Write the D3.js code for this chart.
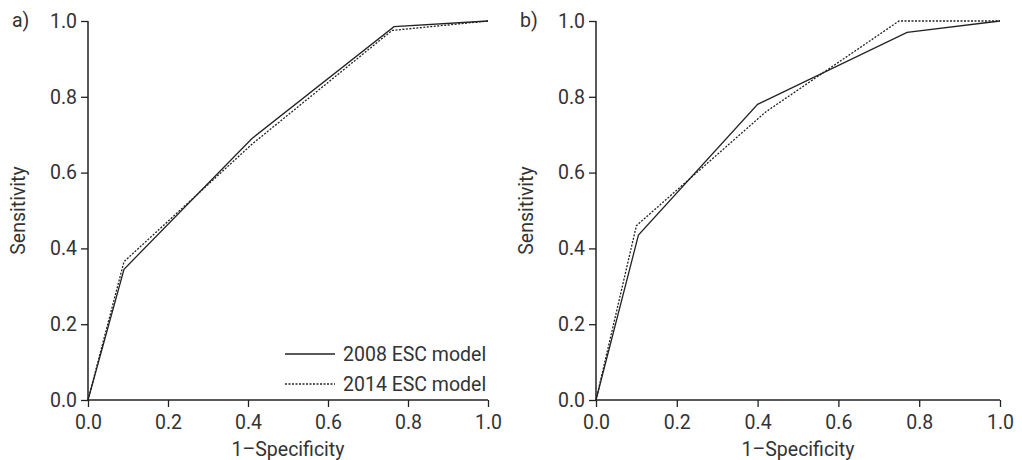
<!DOCTYPE html>
<html>
<head>
<meta charset="utf-8">
<script src="https://cdn.jsdelivr.net/npm/d3@7"></script>
<style>
  body { margin: 0; background: #fff; }
  svg text { font-family: Roboto, "DejaVu Sans", sans-serif; fill: #333; }
</style>
</head>
<body>
<div id="chart"></div>
<script>
// ROC points: [1-specificity, sensitivity]
const rocA2008 = [[0, 0], [0.09, 0.345], [0.41, 0.69], [0.765, 0.985], [1, 1]]
const rocA2014 = [[0, 0], [0.09, 0.365], [0.41, 0.675], [0.76, 0.975], [1, 1]]
const rocB2008 = [[0, 0], [0.105, 0.435], [0.40, 0.78], [0.77, 0.97], [1, 1]]
const rocB2014 = [[0, 0], [0.10, 0.46], [0.42, 0.76], [0.75, 1.0], [1, 1]]
const tickValues = [0, 0.2, 0.4, 0.6, 0.8, 1.0]
const seriesNames = ['2008 ESC model', '2014 ESC model']
const panelLabels = ['a)', 'b)']

const W = 1022, H = 460
const svg = d3.select('#chart').append('svg').attr('width', W).attr('height', H)

const panels = [
  { label: panelLabels[0], left: 88, right: 488, data: [rocA2008, rocA2014], legend: true },
  { label: panelLabels[1], left: 596, right: 1000, data: [rocB2008, rocB2014], legend: false }
]
const plotTop = 21, plotBottom = 400
const ink = '#222'
const fs = '19.5px'

panels.forEach((p, i) => {
  const x = d3.scaleLinear().domain([0, 1]).range([p.left, p.right])
  const y = d3.scaleLinear().domain([0, 1]).range([plotBottom, plotTop])
  const g = svg.append('g')

  const xAxis = g.append('g')
    .attr('transform', 'translate(0,' + plotBottom + ')')
    .call(d3.axisBottom(x).tickValues(tickValues).tickFormat(d3.format('.1f')).tickSize(7).tickPadding(8))
  const yAxis = g.append('g')
    .attr('transform', 'translate(' + p.left + ',0)')
    .call(d3.axisLeft(y).tickValues(tickValues).tickFormat(d3.format('.1f')).tickSize(7).tickPadding(4))
  ;[xAxis, yAxis].forEach(a => {
    a.select('.domain').attr('stroke', ink).attr('stroke-width', 1.5)
      .attr('d', a === xAxis ? 'M' + p.left + ',0H' + p.right : 'M0,' + plotTop + 'V' + plotBottom)
    a.selectAll('.tick line').attr('stroke', ink).attr('stroke-width', 1.3)
    a.selectAll('.tick text').style('font-size', fs).attr('fill', '#333')
  })

  const line = d3.line().x(d => x(d[0])).y(d => y(d[1]))
  p.data.forEach((s, k) => {
    g.append('path').datum(s)
      .attr('fill', 'none').attr('stroke', ink).attr('stroke-width', 1.3)
      .attr('stroke-dasharray', k === 1 ? '2,1.5' : null)
      .attr('d', line)
  })

  g.append('text').attr('x', p.left - 76).attr('y', 27)
    .style('font-size', fs).text(p.label)
  g.append('text')
    .attr('transform', 'translate(' + (p.left - 63) + ',' + ((plotTop + plotBottom) / 2) + ') rotate(-90)')
    .attr('text-anchor', 'middle').style('font-size', fs).text('Sensitivity')
  g.append('text').attr('x', (p.left + p.right) / 2).attr('y', 456)
    .attr('text-anchor', 'middle').style('font-size', fs).text('1\u2013Specificity')

  if (p.legend) {
    seriesNames.forEach((name, k) => {
      const ly = 354 + k * 30
      g.append('line').attr('x1', 285).attr('x2', 335).attr('y1', ly).attr('y2', ly)
        .attr('stroke', ink).attr('stroke-width', 1.3)
        .attr('stroke-dasharray', k === 1 ? '2,1.5' : null)
      g.append('text').attr('x', 343).attr('y', ly + 7)
        .style('font-size', fs).text(name)
    })
  }
})
</script>
</body>
</html>
